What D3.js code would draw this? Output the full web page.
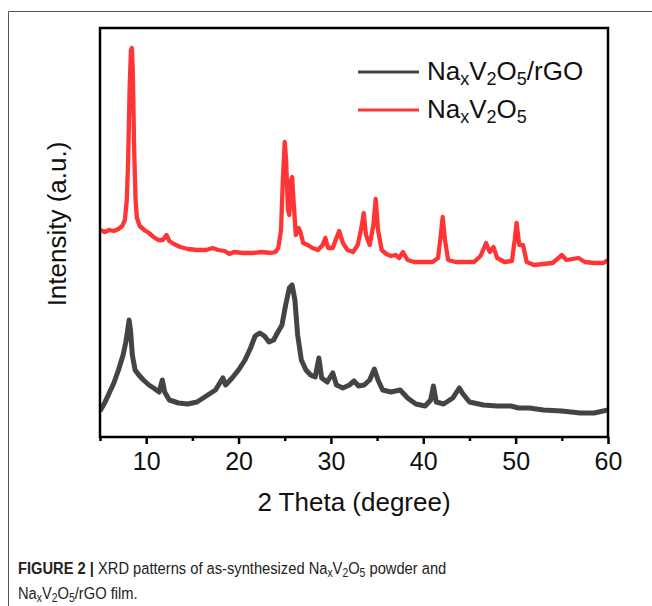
<!DOCTYPE html>
<html>
<head>
<meta charset="utf-8">
<script src="https://cdn.jsdelivr.net/npm/d3@7"></script>
<style>
  body { margin: 0; background: #fff; }
  svg { display: block; font-family: "Liberation Sans", Arial, sans-serif; }
</style>
</head>
<body>
<svg id="chart"></svg>
<script>
        // 2 theta positions (degree) and intensities (a.u.)
        const redTheta = [5.0, 5.5, 6.0, 6.5, 7.0, 7.4, 7.7, 7.9, 8.05, 8.2, 8.35, 8.45, 8.55, 8.7, 8.85, 9.0, 9.3, 9.8, 10.3, 10.8,
            11.3, 11.8, 12.2, 12.5, 13.0, 13.7, 14.5, 15.5, 16.5, 17.2, 17.8, 18.5, 19.0, 19.5, 20.5, 21.5, 22.5, 23.5, 24.0, 24.3,
            24.6, 24.8, 25.0, 25.15, 25.35, 25.5, 25.7, 25.8, 25.95, 26.2, 26.5, 26.7, 27.0, 27.5, 28.0, 28.6, 29.1, 29.4, 29.7, 30.2,
            30.6, 30.9, 31.3, 31.8, 32.4, 32.9, 33.3, 33.55, 33.8, 34.2, 34.6, 34.85, 35.1, 35.5, 36.0, 36.5, 37.0, 37.4, 37.8, 38.3,
            39.0, 40.0, 41.0, 41.6, 41.9, 42.1, 42.35, 42.7, 43.5, 44.5, 45.5, 46.2, 46.8, 47.2, 47.6, 48.0, 48.8, 49.6, 49.9, 50.1,
            50.4, 50.8, 51.2, 52.0, 53.0, 54.0, 55.0, 55.5, 56.8, 57.5, 58.5, 59.5, 60.0];
        const redIntensity = [207, 205, 207, 206, 208, 211, 217, 237, 277, 347, 387, 389, 367, 287, 237, 219, 211, 207, 204, 200,
            197, 197, 202, 196, 193, 190, 188, 187, 187, 189, 187, 186, 183, 185, 184, 184, 185, 184, 185, 189,
            207, 257, 295, 277, 227, 222, 257, 260, 237, 202, 209, 205, 194, 192, 189, 187, 192, 199, 189, 189,
            199, 206, 194, 187, 185, 192, 209, 224, 202, 192, 212, 238, 207, 187, 183, 181, 182, 179, 185, 177,
            175, 175, 175, 179, 202, 220, 197, 177, 175, 175, 175, 181, 194, 185, 190, 179, 175, 176, 197, 214,
            192, 192, 175, 172, 173, 174, 182, 177, 179, 175, 174, 174, 177];

        const blackTheta = [5.0, 5.5, 6.0, 6.5, 7.0, 7.5, 7.8, 8.0, 8.15, 8.3, 8.5, 8.8, 9.2, 9.7, 10.3, 10.8, 11.4, 11.75, 12.0, 12.5,
            13.5, 14.5, 15.5, 16.5, 17.5, 18.3, 18.6, 19.3, 20.0, 20.7, 21.3, 21.8, 22.3, 22.8, 23.3, 23.8, 24.2, 24.7, 25.1, 25.5,
            25.8, 26.1, 26.4, 26.8, 27.3, 27.8, 28.3, 28.7, 29.0, 29.6, 30.2, 30.6, 31.3, 32.0, 32.5, 33.0, 33.6, 34.2, 34.7, 35.1,
            35.6, 36.5, 37.5, 38.3, 39.2, 40.2, 40.8, 41.1, 41.4, 42.2, 43.2, 43.9, 44.3, 45.0, 46.5, 48.0, 49.5, 50.3, 51.5, 53.0,
            55.0, 57.0, 58.5, 60.0];
        const blackIntensity = [26, 34, 44, 54, 67, 82, 95, 107, 117, 107, 82, 67, 62, 57, 52, 49, 45, 57, 45, 37,
            34, 33, 35, 41, 47, 59, 52, 59, 67, 77, 89, 101, 104, 101, 95, 97, 104, 112, 132, 149,
            152, 137, 102, 77, 67, 62, 60, 79, 59, 55, 64, 52, 49, 52, 56, 51, 52, 57, 68, 57,
            47, 45, 47, 39, 33, 31, 37, 51, 35, 33, 39, 49, 43, 35, 32, 31, 31, 29, 29, 27,
            26, 24, 24, 27];

        const majorTicks = [10, 20, 30, 40, 50, 60];
        const minorTicks = [5, 15, 25, 35, 45, 55];

        const W = 652, H = 606;
        const margin = { top: 28, right: 44, bottom: 169, left: 100 };
        const width = W - margin.left - margin.right;
        const height = H - margin.top - margin.bottom;

        const root = d3.select('#chart').attr('width', W).attr('height', H);

        // figure frame (top and left edges)
        root.append('path')
            .attr('d', `M8.5,${H} V11.5 H${W}`)
            .attr('fill', 'none')
            .attr('stroke', '#555')
            .attr('stroke-width', 1);

        const svg = root.append('g').attr('transform', `translate(${margin.left},${margin.top})`);

        const xScale = d3.scaleLinear().domain([5, 60]).range([0, width]);
        const yScale = d3.scaleLinear().domain([0, 409]).range([height, 0]);

        const line = d3.line()
            .x(d => xScale(d[0]))
            .y(d => yScale(d[1]));

        svg.append('defs').append('clipPath').attr('id', 'clip')
            .append('rect').attr('width', width).attr('height', height);

        const plot = svg.append('g').attr('clip-path', 'url(#clip)');

        plot.append('path')
            .datum(d3.zip(blackTheta, blackIntensity))
            .attr('fill', 'none')
            .attr('stroke', '#444444')
            .attr('stroke-width', 5)
            .attr('stroke-linejoin', 'round')
            .attr('d', line);

        plot.append('path')
            .datum(d3.zip(redTheta, redIntensity))
            .attr('fill', 'none')
            .attr('stroke', '#ff3434')
            .attr('stroke-width', 4.3)
            .attr('stroke-linejoin', 'round')
            .attr('d', line);

        // bottom axis: major ticks with labels, minor ticks without
        const xAxis = svg.append('g')
            .attr('transform', `translate(0,${height})`)
            .call(d3.axisBottom(xScale).tickValues(majorTicks).tickSize(7).tickPadding(8).tickFormat(d3.format('d')));
        xAxis.select('.domain').remove();
        xAxis.selectAll('line').attr('stroke', '#000').attr('stroke-width', 2.5);
        xAxis.selectAll('text').attr('font-size', 25).attr('fill', '#111');

        svg.append('g')
            .attr('transform', `translate(0,${height})`)
            .call(d3.axisBottom(xScale).tickValues(minorTicks).tickSize(4).tickFormat(''))
            .call(g => g.select('.domain').remove())
            .selectAll('line').attr('stroke', '#000').attr('stroke-width', 2.5);

        // plot frame
        svg.append('rect')
            .attr('width', width)
            .attr('height', height)
            .attr('fill', 'none')
            .attr('stroke', '#000')
            .attr('stroke-width', 2.5);

        // axis titles
        svg.append('text')
            .attr('x', width / 2)
            .attr('y', height + 74)
            .attr('text-anchor', 'middle')
            .attr('font-size', 26)
            .attr('fill', '#111')
            .text('2 Theta (degree)');

        svg.append('text')
            .attr('transform', `translate(${-34},${224 - margin.top}) rotate(-90)`)
            .attr('text-anchor', 'middle')
            .attr('font-size', 26)
            .attr('fill', '#111')
            .text('Intensity (a.u.)');

        // helper for chemical formulas with subscripts
        function formula(sel, parts, size, subSize, shift) {
            let back = 0;
            parts.forEach(p => {
                const sub = typeof p !== 'string';
                const t = sel.append('tspan').text(sub ? p.sub : p).attr('font-size', sub ? subSize : size);
                if (sub) { t.attr('dy', shift + back); back = -shift; }
                else if (back) { t.attr('dy', back); back = 0; }
            });
            return sel;
        }

        const legendItems = [
            { name: ['Na', { sub: 'x' }, 'V', { sub: '2' }, 'O', { sub: '5' }, '/rGO'], color: '#444444' },
            { name: ['Na', { sub: 'x' }, 'V', { sub: '2' }, 'O', { sub: '5' }], color: '#ff3434' }
        ];

        const legend = root.append('g');
        legendItems.forEach((item, i) => {
            const y = 72 + i * 38;
            legend.append('line')
                .attr('x1', 358).attr('x2', 419)
                .attr('y1', y).attr('y2', y)
                .attr('stroke', item.color)
                .attr('stroke-width', 3);
            const t = legend.append('text')
                .attr('x', 427).attr('y', y + 8)
                .attr('fill', '#111');
            formula(t, item.name, 26, 18, 5);
        });

        // caption, squeezed horizontally to match the condensed typeface
        const caption = root.append('g')
            .attr('transform', 'translate(18,0) scale(0.865,1)')
            .attr('fill', '#222')
            .attr('font-size', 17);

        const cap1 = caption.append('text').attr('x', 0).attr('y', 574);
        cap1.append('tspan').attr('font-weight', 'bold').text('FIGURE 2 | ');
        formula(cap1, ['XRD patterns of as-synthesized Na', { sub: 'x' }, 'V', { sub: '2' }, 'O', { sub: '5' }, ' powder and'], 17, 12, 3);

        const cap2 = caption.append('text').attr('x', 0).attr('y', 599);
        formula(cap2, ['Na', { sub: 'x' }, 'V', { sub: '2' }, 'O', { sub: '5' }, '/rGO film.'], 17, 12, 3);
</script>
</body>
</html>
